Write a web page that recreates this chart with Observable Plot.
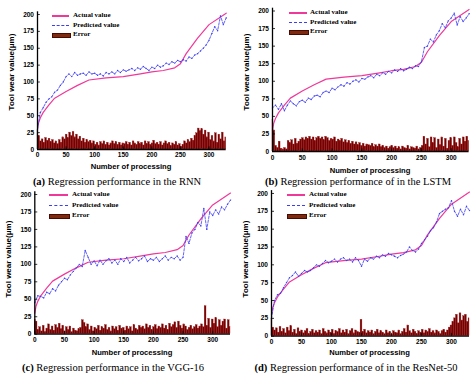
<!DOCTYPE html>
<html><head><meta charset="utf-8">
<script src="https://cdn.jsdelivr.net/npm/d3@7"></script>
<script src="https://cdn.jsdelivr.net/npm/@observablehq/plot@0.6"></script>
<style>
body{margin:0;background:#fff;}
#root{position:relative;width:474px;height:377px;overflow:hidden;background:#fff;}
.panel{position:absolute;z-index:1;}
.t{position:absolute;white-space:nowrap;line-height:1;color:#000;z-index:2;}
.sw{position:absolute;z-index:3;}
</style></head><body><div id="root"></div>
<script>
const xTicks = [0, 50, 100, 150, 200, 250, 300];
const yTicks = [0, 25, 50, 75, 100, 125, 150, 175, 200];
const legendLabels = ["Actual value", "Predicted value", "Error"];
const yTitle = "Tool wear value(μm)";
const xTitle = "Number of processing";

// Actual tool wear (same ground truth in every panel)
const actualX = [0, 2, 5, 10, 20, 30, 50, 70, 90, 120, 150, 180, 200, 220, 240, 250, 260, 280, 300, 330];
const actualY = [30, 40, 47, 55, 66, 76, 86, 95, 103, 106, 108, 112, 115, 117, 121, 127, 142, 165, 185, 202];

const predStep = 5;   // predicted values read every 5 processings
const errStep = 3;    // error bars read every 3 processings

const predRNN = [30,55,62,70,75,78,85,88,95,100,
108,112,108,114,110,112,113,110,115,112,
113,110,112,109,114,112,115,112,117,114,
118,116,118,120,117,121,119,123,120,117,
122,120,125,122,124,128,126,130,128,132,
130,133,131,137,135,140,142,146,150,155,
162,172,182,176,198,185,195];
const predLSTM = [62,66,60,68,58,66,72,68,65,71,
73,70,76,74,79,80,78,84,86,84,
90,88,92,95,93,98,96,100,102,99,
104,103,106,108,105,110,108,112,110,114,
112,116,114,118,115,117,120,118,122,121,
128,148,150,160,156,166,172,182,176,186,
190,197,180,192,185,190,196];
const predVGG = [45,55,54,52,60,58,65,62,70,75,
80,78,85,90,95,100,97,120,110,100,
105,98,106,100,105,108,102,106,100,108,
104,110,102,106,110,105,108,112,104,108,
106,110,104,108,112,106,110,108,112,106,
110,140,130,145,150,160,155,180,150,175,
170,178,172,182,178,186,192];
const predResNet = [25,50,58,60,68,75,82,85,90,84,
88,92,90,92,96,100,98,102,106,103,
105,108,104,108,110,106,108,104,110,106,
98,108,105,110,108,112,110,114,112,116,
114,112,110,113,115,118,125,120,118,122,
130,135,140,148,152,160,172,175,178,180,
190,175,168,178,170,182,176];

const errRNN = [28,20,12,15,10,17,13,16,11,14,9,
12,8,14,10,18,15,22,17,25,20,
26,18,22,15,19,12,16,10,14,11,
13,9,12,7,10,6,11,8,12,7,
10,6,9,12,8,11,7,10,6,9,
8,11,7,10,6,12,9,7,11,8,
10,6,12,8,11,7,9,13,8,10,
7,11,6,9,12,8,10,5,9,7,
11,6,8,4,7,12,9,14,11,16,
13,20,24,31,27,30,22,28,18,25,
14,20,12,24,10,22,15,25,12,18];
const errLSTM = [45,30,8,5,14,4,3,5,3,15,12,
16,10,18,11,14,17,19,16,20,18,
21,17,20,15,19,21,18,20,16,21,
19,15,18,17,20,14,17,15,18,13,
16,12,15,11,14,10,13,9,12,8,
11,7,10,9,8,11,6,9,7,10,
6,8,5,7,4,6,8,5,7,4,
6,3,7,5,4,8,3,6,5,4,
7,3,5,8,21,10,18,6,20,12,
19,5,17,9,20,7,18,4,15,19,
8,20,12,6,18,10,20,14,21,15];
const errVGG = [20,18,6,10,4,12,3,8,14,6,11,
5,13,9,15,7,12,4,10,6,11,
3,8,5,4,7,9,20,16,10,14,
6,11,4,9,7,12,5,10,8,13,
6,9,4,11,7,10,5,12,8,9,
5,11,7,10,4,13,8,6,12,9,
11,7,14,9,12,6,10,13,7,11,
9,14,8,12,6,15,10,13,17,9,
18,12,8,14,11,6,9,12,7,10,
13,8,11,14,10,40,12,22,9,21,
15,23,10,20,12,18,21,8,20,10];
const errResNet = [25,12,8,11,5,13,6,10,4,12,7,
14,5,9,3,11,6,8,4,7,10,
3,6,9,4,7,5,8,3,10,6,
4,8,5,9,3,7,6,10,4,8,
5,9,3,7,10,4,8,6,5,23,
6,9,4,7,5,8,3,6,9,4,
7,5,3,8,4,6,2,7,5,4,
8,3,6,10,5,15,7,4,9,6,
3,7,5,9,4,8,6,10,5,7,
4,8,6,3,7,9,5,8,12,15,
20,25,30,18,32,22,28,30,20,25];

const captionTags = ["(a)", "(b)", "(c)", "(d)"];
const captionTexts = ["Regression performance in the RNN", "Regression performance of in the LSTM",
  "Regression performance in the VGG-16", "Regression performance of in the ResNet-50"];

const COLORS = {actual: "#f0389a", pred: "#3d3df5", err: "#6f0303", errEdge: "#a51515"};

const panels = [
  {pred: predRNN, err: errRNN, left: 0, top: 0, w: 237, h: 172, mT: 11.3, mB: 23, mL: 37, mR: 11.3, tp: 3,
   yt: [12, 72], xt: [131, 167], cap: [117, 182], leg: {x1: 52, x2: 69, tx: 73, rows: [16, 26, 35]}},
  {pred: predLSTM, err: errLSTM, left: 237, top: 0, w: 237, h: 172, mT: 7.7, mB: 21, mL: 35, mR: 5.4, tp: 4,
   yt: [247, 72], xt: [370, 171], cap: [358, 182], leg: {x1: 289, x2: 307, tx: 310, rows: [13, 23, 32]}},
  {pred: predVGG, err: errVGG, left: 0, top: 186, w: 237, h: 172, mT: 5.2, mB: 24.3, mL: 34.3, mR: 7, tp: 3.5,
   yt: [9, 259], xt: [132, 353], cap: [113, 368], leg: {x1: 49, x2: 68, tx: 72, rows: [195, 206, 216]}},
  {pred: predResNet, err: errResNet, left: 237, top: 186, w: 237, h: 172, mT: 4.1, mB: 22.3, mL: 34, mR: 5, tp: 3,
   yt: [246, 259], xt: [369.5, 353], cap: [356, 368], leg: {x1: 287, x2: 305, tx: 309, rows: [195, 206, 216]}}
];

const root = document.getElementById("root");

function addText(html, x, y, css, rotate) {
  const d = document.createElement("div");
  d.className = "t";
  d.innerHTML = html;
  Object.assign(d.style, css);
  d.style.left = x + "px";
  d.style.top = y + "px";
  d.style.transform = "translate(-50%,-50%)" + (rotate ? " rotate(-90deg)" : "");
  root.appendChild(d);
  return d;
}

function makePlot(p) {
  const actual = actualX.map((x, i) => ({x, y: actualY[i]}));
  const pred = p.pred.map((v, i) => ({x: i * predStep, y: v}));
  const err = p.err.map((v, i) => ({x: i * errStep, e: v}));
  return Plot.plot({
    width: p.w, height: p.h,
    marginTop: p.mT, marginBottom: p.mB, marginLeft: p.mL, marginRight: p.mR,
    x: {domain: [0, 330]},
    y: {domain: [0, 204]},
    style: {fontFamily: "'Liberation Sans', Arial, sans-serif", fontWeight: "bold", fontSize: "6.5px", color: "#000", background: "transparent", overflow: "visible"},
    marks: [
      Plot.rectY(err, {x1: d => Math.max(0, d.x - errStep / 2), x2: d => Math.min(330, d.x + errStep / 2), y: "e", fill: COLORS.err, stroke: COLORS.errEdge, strokeWidth: 0.35}),
      Plot.line(actual, {x: "x", y: "y", stroke: COLORS.actual, strokeWidth: 1.2}),
      Plot.line(pred, {x: "x", y: "y", stroke: COLORS.pred, strokeWidth: 0.8, strokeDasharray: "2.5,1.5"}),
      Plot.dot(pred, {x: "x", y: "y", r: 0.7, fill: COLORS.pred, stroke: "none"}),
      Plot.ruleX(xTicks, {y1: 0, y2: 4, stroke: "#000", strokeWidth: 0.8}),
      Plot.ruleY(yTicks, {x1: 0, x2: 5, stroke: "#000", strokeWidth: 0.8}),
      Plot.ruleX([0], {stroke: "#000", strokeWidth: 1.3}),
      Plot.ruleY([0], {stroke: "#000", strokeWidth: 1.3}),
      Plot.axisX({ticks: xTicks, tickSize: 0, tickPadding: p.tp, fontSize: 6.5, fontWeight: "bold", label: null}),
      Plot.axisY({ticks: yTicks, tickSize: 0, tickPadding: 3.5, fontSize: 6.5, fontWeight: "bold", label: null})
    ]
  });
}

panels.forEach((p, k) => {
  const div = document.createElement("div");
  div.className = "panel";
  div.style.left = p.left + "px";
  div.style.top = p.top + "px";
  div.appendChild(makePlot(p));
  root.appendChild(div);

  const sans = {fontFamily: "'Liberation Sans', Arial, sans-serif", fontWeight: "bold"};
  addText(yTitle, p.yt[0], p.yt[1], {...sans, fontSize: "8px"}, true);
  addText(xTitle, p.xt[0], p.xt[1], {...sans, fontSize: "7.6px"});
  addText("<b>" + captionTags[k] + "</b> " + captionTexts[k], p.cap[0], p.cap[1],
    {fontFamily: "'Liberation Serif', 'Times New Roman', serif", fontSize: "10.5px"});

  // legend
  const L = p.leg;
  const serifB = {fontFamily: "'Liberation Serif', 'Times New Roman', serif", fontWeight: "bold", fontSize: "7px"};
  const swatches = [
    `height:2px;background:${COLORS.actual};`,
    `height:0;border-top:1.5px dashed ${COLORS.pred};`,
    `height:3px;background:#7e2a0e;border:1px solid #4a0a04;`
  ];
  L.rows.forEach((ry, j) => {
    const s = document.createElement("div");
    s.className = "sw";
    s.style.cssText += `left:${L.x1}px;width:${L.x2 - L.x1}px;top:${ry - (j === 2 ? 2 : 1)}px;` + swatches[j];
    root.appendChild(s);
    const t = document.createElement("div");
    t.className = "t";
    t.textContent = legendLabels[j];
    Object.assign(t.style, serifB);
    t.style.left = L.tx + "px";
    t.style.top = (ry - 4) + "px";
    root.appendChild(t);
  });
});
</script>
</body></html>
